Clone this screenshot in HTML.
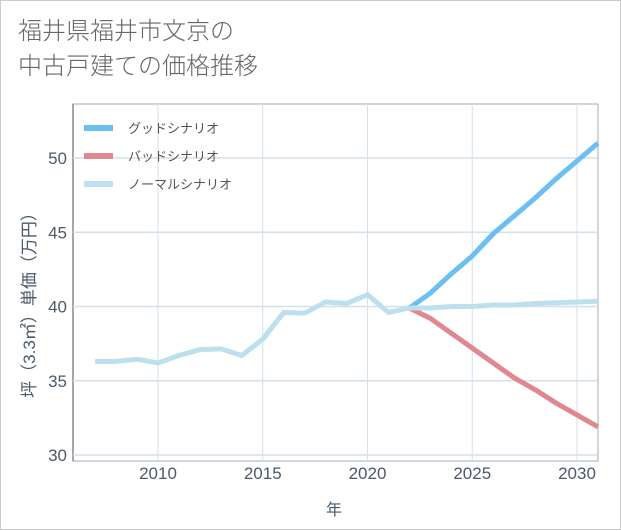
<!DOCTYPE html>
<html><head><meta charset="utf-8"><style>
body{margin:0;background:#fff;}
#wrap{position:relative;width:619px;height:528px;border:1px solid #ccc;background:#fff;font-family:"Liberation Sans","Noto Sans CJK JP",sans-serif;}
#title{position:absolute;left:17px;top:13px;font-size:24px;line-height:35px;color:#666;font-weight:300;}
svg{position:absolute;left:0;top:0;}
</style></head><body>
<div id="wrap">
<div id="title">福井県福井市文京の<br>中古戸建ての価格推移</div>
<svg id="chart" width="621" height="530"></svg>
</div>
<script>
const histYears=[2007,2008,2009,2010,2011,2012,2013,2014,2015,2016,2017,2018,2019,2020,2021,2022];
const histValues=[36.3,36.3,36.45,36.2,36.7,37.1,37.15,36.7,37.8,39.6,39.55,40.3,40.2,40.8,39.6,39.9];
const futYears=[2022,2023,2024,2025,2026,2027,2028,2029,2030,2031];
const goodValues=[39.9,40.9,42.2,43.4,44.9,46.1,47.3,48.6,49.8,51.0];
const badValues=[39.9,39.2,38.2,37.2,36.2,35.2,34.4,33.5,32.7,31.9];
const normalValues=[39.9,39.9,40.0,40.0,40.1,40.1,40.2,40.25,40.3,40.35];
const xTicks=[2010,2015,2020,2025,2030];
const yTicks=[30,35,40,45,50];
const L=72,R=597,T=103,B=460;
const x=v=>157+(v-2010)*(576-157)/20;
const y=v=>454-(v-30)*(454-157)/20;
const svg=document.getElementById('chart');
const NS='http://www.w3.org/2000/svg';
function mk(t,a){const e=document.createElementNS(NS,t);for(const k in a)e.setAttribute(k,a[k]);svg.appendChild(e);return e;}
let e=mk('rect',{x:L,y:T,width:R-L,height:B-T,fill:'#fff',stroke:'#aab','stroke-width':1});


e=mk('line',{x1:L,x2:L,y1:T,y2:B,stroke:'#888','stroke-width':1.5});


for(const t of xTicks){
 e=mk('line',{x1:x(t),x2:x(t),y1:T,y2:B,stroke:'#d5e0ea','stroke-width':1});
 
 
 e=mk('text',{x:x(t),y:478,'text-anchor':'middle','font-size':17,fill:'#4a5a6a'});e.textContent=t;
 
 
}
for(const t of yTicks){
 e=mk('line',{x1:L,x2:R,y1:y(t),y2:y(t),stroke:'#d5e0ea','stroke-width':1.5});
 
 
 e=mk('text',{x:66,y:y(t)+6,'text-anchor':'end','font-size':17,fill:'#4a5a6a'});e.textContent=t;
 
 
}
e=mk('text',{x:333,y:514,'text-anchor':'middle','font-size':16,fill:'#4a5a6a'});e.textContent='年';


e=mk('text',{x:0,y:0,'text-anchor':'middle','font-size':17,fill:'#4a5a6a',transform:'translate(34,300) rotate(-90)'});e.textContent='坪（3.3㎡）単価（万円）';


function line(xs,vs,color,name){
 const p=xs.map((v,i)=>x(v)+','+y(vs[i])).join(' ');
 const l=mk('polyline',{points:p,fill:'none',stroke:color,'stroke-width':5,'stroke-linejoin':'round'});
 
 
}
line(futYears,goodValues,'#6cbff2','good-scenario-line');
line(futYears,badValues,'#e0888f','bad-scenario-line');
line(futYears,normalValues,'#bde0ee','normal-scenario-line');
line(histYears,histValues,'#bde0ee','historical-line');
const leg=[['グッドシナリオ','#6cbff2'],['バッドシナリオ','#e0888f'],['ノーマルシナリオ','#bde0ee']];
leg.forEach((d,i)=>{
 const yy=127+i*28;
 let r=mk('rect',{x:83,y:yy-3,width:29,height:6,fill:d[1]});
 
 
 let t=mk('text',{x:127,y:yy+5,'font-size':13,fill:'#555'});t.textContent=d[0];
 
 
});
</script>
</body></html>
